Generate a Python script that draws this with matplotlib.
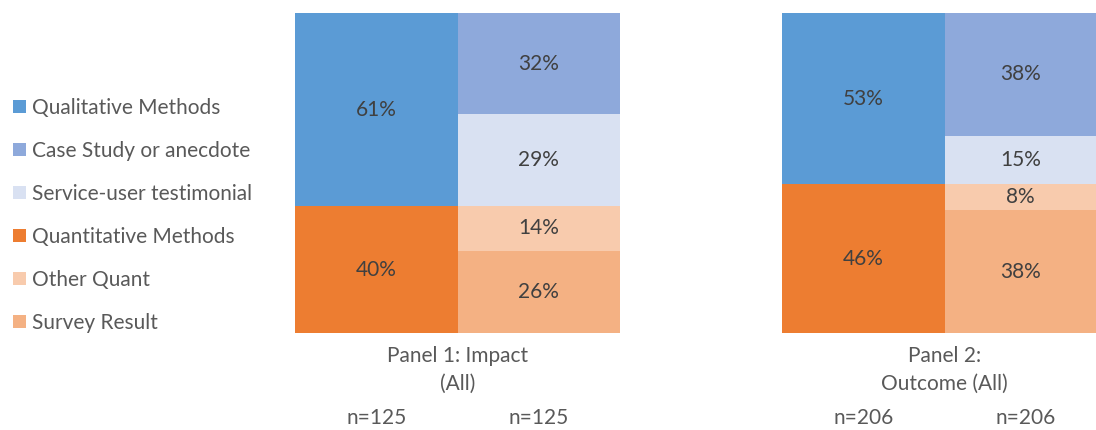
import matplotlib
matplotlib.use("Agg")
import matplotlib.pyplot as plt
from matplotlib.patches import Patch

plt.rcParams['font.family'] = ['Lato', 'DejaVu Sans']

# ---- data ----
series_names = ["Qualitative Methods", "Case Study or anecdote", "Service-user testimonial",
                "Quantitative Methods", "Other Quant", "Survey Result"]
series_colors = ["#5B9BD5", "#8EA9DB", "#D9E1F2", "#ED7D31", "#F8CBAD", "#F4B183"]
panel_titles = ["Panel 1: Impact\n(All)", "Panel 2:\nOutcome (All)"]
n_labels = [["n=125", "n=125"], ["n=206", "n=206"]]
qualitative = [61, 53]
quantitative = [40, 46]
case_study = [32, 38]
testimonial = [29, 15]
other_quant = [14, 8]
survey = [26, 38]

W, H = 1096, 430
fig = plt.figure(figsize=(W / 100, H / 100), dpi=100)

label_color = "#404040"
axis_text_color = "#595959"
fs = 15

# axes positions (pixels): left, right
panel_px = [(295, 620), (782, 1096)]
bar_w_px = 162.5
top_px, bot_px = 13, 333

for p in range(2):
    l, r = panel_px[p]
    ax = fig.add_axes([l / W, (H - bot_px) / H, (r - l) / W, (bot_px - top_px) / H])
    # left bar: quantitative (bottom), qualitative (top)
    left_stack = [(quantitative[p], series_colors[3]), (qualitative[p], series_colors[0])]
    right_stack = [(survey[p], series_colors[5]), (other_quant[p], series_colors[4]),
                   (testimonial[p], series_colors[2]), (case_study[p], series_colors[1])]
    tot = 0
    for xpos, stack in ((0, left_stack), (1, right_stack)):
        bottom = 0
        for val, col in stack:
            bars = ax.bar(xpos, val, width=1.0, bottom=bottom, color=col, linewidth=0)
            ax.bar_label(bars, labels=[f"{val}%"], label_type="center",
                         color=label_color, fontsize=fs)
            bottom += val
        tot = max(tot, bottom)
    ax.set_ylim(0, tot)
    ax.set_xlim(-0.5, -0.5 + (r - l) / bar_w_px)
    ax.set_yticks([])
    for s in ax.spines.values():
        s.set_visible(False)
    ax.set_xticks([0, 1])
    ax.set_xticklabels(n_labels[p], color=axis_text_color, fontsize=fs)
    ax.tick_params(axis="x", which="major", length=0, pad=54)
    ax.set_xticks([0.5], minor=True)
    ax.set_xticklabels([panel_titles[p]], minor=True, color=axis_text_color,
                       fontsize=fs, linespacing=1.55)
    ax.tick_params(axis="x", which="minor", length=0, pad=9)

handles = [Patch(facecolor=c, edgecolor="none") for c in series_colors]
fig.legend(handles, series_names, loc="center left",
           bbox_to_anchor=(13 / W, (H - 215.5) / H), frameon=False,
           fontsize=fs, labelcolor=axis_text_color, handlelength=0.6,
           handleheight=0.6, handletextpad=0.3, labelspacing=1.1,
           borderpad=0, borderaxespad=0)

fig.savefig("out.png", dpi=100)
